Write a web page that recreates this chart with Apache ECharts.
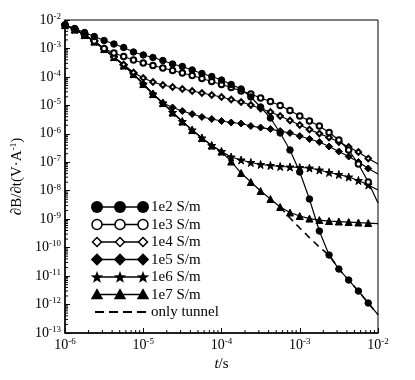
<!DOCTYPE html>
<html>
<head>
<meta charset="utf-8">
<script src="https://cdn.jsdelivr.net/npm/echarts@6/dist/echarts.min.js"></script>
<style>
html, body { margin: 0; padding: 0; background: #fff; }
#chart { width: 415px; height: 380px; }
</style>
</head>
<body>
<div id="chart"></div>
<script>
// sampling times (s), 8 per decade
var times = [1.00e-6, 1.33e-6, 1.78e-6, 2.37e-6, 3.16e-6, 4.22e-6, 5.62e-6, 7.50e-6,
             1.00e-5, 1.33e-5, 1.78e-5, 2.37e-5, 3.16e-5, 4.22e-5, 5.62e-5, 7.50e-5,
             1.00e-4, 1.33e-4, 1.78e-4, 2.37e-4, 3.16e-4, 4.22e-4, 5.62e-4, 7.50e-4,
             1.00e-3, 1.33e-3, 1.78e-3, 2.37e-3, 3.16e-3, 4.22e-3, 5.62e-3, 7.50e-3,
             1.00e-2];

var names = ['1e2 S/m', '1e3 S/m', '1e4 S/m', '1e5 S/m', '1e6 S/m', '1e7 S/m', 'only tunnel'];

// dB/dt (V/A)
var s1e2 = [6.67e-3, 5.02e-3, 3.64e-3, 2.63e-3, 1.90e-3, 1.43e-3, 1.08e-3, 7.50e-4,
            5.89e-4, 4.81e-4, 3.77e-4, 2.84e-4, 2.32e-4, 1.75e-4, 1.32e-4, 1.03e-4,
            7.78e-5, 5.41e-5, 3.76e-5, 1.97e-5, 8.75e-6, 3.59e-6, 1.07e-6, 2.70e-7,
            4.54e-8, 5.11e-9, 3.83e-10, 5.49e-11, 1.77e-11, 7.26e-12, 2.98e-12, 1.13e-12,
            4.45e-13];
var s1e3 = [6.67e-3, 4.83e-3, 3.09e-3, 1.83e-3, 9.96e-4, 6.92e-4, 5.21e-4, 3.93e-4,
            3.08e-4, 2.52e-4, 2.05e-4, 1.68e-4, 1.37e-4, 1.12e-4, 8.79e-5, 6.89e-5,
            5.41e-5, 4.24e-5, 3.19e-5, 2.51e-5, 1.81e-5, 1.37e-5, 9.88e-6, 6.59e-6,
            4.22e-6, 2.82e-6, 1.88e-6, 1.11e-6, 6.05e-7, 2.70e-7, 8.68e-8, 2.02e-8,
            3.70e-9];
var s1e4 = [6.67e-3, 4.64e-3, 2.97e-3, 1.75e-3, 9.57e-4, 5.01e-4, 2.73e-4, 1.43e-4,
            9.15e-5, 6.62e-5, 5.19e-5, 4.42e-5, 3.76e-5, 3.19e-5, 2.72e-5, 2.31e-5,
            1.97e-5, 1.61e-5, 1.31e-5, 1.03e-5, 7.75e-6, 5.84e-6, 4.22e-6, 2.93e-6,
            2.04e-6, 1.42e-6, 1.02e-6, 7.41e-7, 5.15e-7, 3.44e-7, 2.29e-7, 1.35e-7,
            8.68e-8];
var s1e5 = [6.67e-3, 4.64e-3, 2.97e-3, 1.75e-3, 9.57e-4, 5.01e-4, 2.52e-4, 1.26e-4,
            5.63e-5, 2.51e-5, 1.21e-5, 8.40e-6, 6.33e-6, 4.97e-6, 3.90e-6, 3.31e-6,
            2.82e-6, 2.50e-6, 2.30e-6, 1.88e-6, 1.66e-6, 1.47e-6, 1.25e-6, 1.07e-6,
            8.37e-7, 6.56e-7, 5.15e-7, 3.58e-7, 2.39e-7, 1.59e-7, 1.02e-7, 6.03e-8,
            3.86e-8];
var s1e6 = [6.67e-3, 4.64e-3, 2.97e-3, 1.75e-3, 9.57e-4, 5.01e-4, 2.52e-4, 1.26e-4,
            5.63e-5, 2.51e-5, 1.21e-5, 5.61e-6, 2.71e-6, 1.36e-6, 7.12e-7, 3.88e-7,
            2.39e-7, 1.53e-7, 1.20e-7, 9.80e-8, 8.34e-8, 7.69e-8, 7.09e-8, 6.81e-8,
            6.54e-8, 6.28e-8, 5.34e-8, 4.36e-8, 3.71e-8, 3.03e-8, 2.28e-8, 1.59e-8,
            1.06e-8];
var s1e7 = [6.67e-3, 4.64e-3, 2.97e-3, 1.75e-3, 9.57e-4, 5.01e-4, 2.52e-4, 1.26e-4,
            5.63e-5, 2.51e-5, 1.21e-5, 5.61e-6, 2.71e-6, 1.36e-6, 7.12e-7, 3.88e-7,
            2.39e-7, 1.06e-7, 4.19e-8, 2.02e-8, 9.76e-9, 5.11e-9, 2.67e-9, 1.71e-9,
            1.29e-9, 1.05e-9, 9.33e-10, 8.61e-10, 8.27e-10, 7.94e-10, 7.62e-10, 7.32e-10,
            7.03e-10];
// tunnel only: hidden under the 1e7 curve before ~6e-4 s
var tunnel = [null, null, null, null, null, null, null, null,
              null, null, null, null, null, null, null, null,
              null, null, null, null, null, null, 2.67e-9, 1.10e-9,
              4.89e-10, 2.26e-10, 1.05e-10, 5.49e-11, 1.77e-11, 7.26e-12, 2.98e-12, 1.13e-12,
              4.45e-13];

var curves = [s1e2, s1e3, s1e4, s1e5, s1e6, s1e7];

var starPath = 'path://M50,2 L61,36 L97,36 L68,57 L79,92 L50,71 L21,92 L32,57 L3,36 L39,36 Z';
var looks = [
    {symbol: 'circle', size: 6.5, leg: 'circle'},
    {symbol: 'emptyCircle', size: 5.5, leg: 'emptyCircle'},
    {symbol: 'emptyDiamond', size: 5.5, leg: 'emptyDiamond'},
    {symbol: 'diamond', size: 7, leg: 'diamond'},
    {symbol: starPath, size: 8, leg: 'star'},
    {symbol: 'triangle', size: 7, leg: 'triangle'}
];

var FONT = 'Liberation Serif';

function pairs(vals) {
    var out = [];
    for (var i = 0; i < times.length; i++) {
        if (vals[i] == null) continue;
        if (i == times.length - 1) out.push({value: [times[i], vals[i]], symbol: 'none'});
        else out.push([times[i], vals[i]]);
    }
    return out;
}

function powLabel(v) {
    var e = Math.round(Math.log10(v));
    return '{b|10}{s|' + e + '}';
}

var labelRich = {
    b: {fontFamily: FONT, fontSize: 14, color: '#000', lineHeight: 16},
    s: {fontFamily: FONT, fontSize: 9, color: '#000', lineHeight: 16, verticalAlign: 'top', padding: [0, 0, 6, 0]}
};

var series = [{
    name: names[6],
    type: 'line',
    data: pairs(tunnel),
    showSymbol: false,
    lineStyle: {color: '#000', width: 1.6, type: [7, 5]},
    z: 1
}];
for (var k = curves.length - 1; k >= 0; k--) {
    series.push({
        name: names[k],
        type: 'line',
        data: pairs(curves[k]),
        symbol: looks[k].symbol,
        symbolSize: looks[k].size,
        showAllSymbol: true,
        itemStyle: {color: '#000', borderColor: '#000', borderWidth: 1},
        lineStyle: {color: '#000', width: 1.2},
        z: 2 + (curves.length - k)
    });
}

var option = {
    animation: false,
    backgroundColor: '#fff',
    grid: {left: 65, right: 37, top: 20, bottom: 47, show: true, borderColor: '#000', borderWidth: 1},
    xAxis: {
        type: 'log',
        logBase: 10,
        min: 1e-6,
        max: 1e-2,
        interval: 1,
        name: '{i|t}{n|/s}',
        nameLocation: 'middle',
        nameGap: 17,
        nameTextStyle: {
            rich: {
                i: {fontFamily: FONT, fontSize: 15, fontStyle: 'italic', color: '#000'},
                n: {fontFamily: FONT, fontSize: 15, color: '#000'}
            }
        },
        axisLine: {lineStyle: {color: '#000', width: 1.5}},
        axisTick: {inside: true, length: 5, lineStyle: {color: '#000', width: 1}},
        axisLabel: {interval: 0, margin: 4, formatter: powLabel, rich: labelRich},
        splitLine: {show: false}
    },
    yAxis: {
        type: 'log',
        logBase: 10,
        min: 1e-13,
        max: 1e-2,
        interval: 1,
        name: '∂B/∂t(V·A{s|-1})',
        nameLocation: 'middle',
        nameGap: 30,
        nameRotate: 90,
        nameTextStyle: {
            fontFamily: FONT, fontSize: 15, color: '#000',
            rich: {s: {fontFamily: FONT, fontSize: 9, color: '#000', verticalAlign: 'top', padding: [0, 0, 6, 0]}}
        },
        axisLine: {lineStyle: {color: '#000', width: 1.5}},
        axisTick: {inside: true, length: 5, lineStyle: {color: '#000', width: 1}},
        axisLabel: {interval: 0, margin: 4, formatter: powLabel, rich: labelRich},
        splitLine: {show: false}
    },
    series: series
};

var chart = echarts.init(document.getElementById('chart'));
chart.setOption(option);

// minor log ticks and the hand-drawn legend
var els = [];
var xLeft = chart.convertToPixel({xAxisIndex: 0}, 1e-6);
var yBottom = chart.convertToPixel({yAxisIndex: 0}, 1e-13);
for (var d = -6; d < -2; d++) {
    for (var m = 2; m < 10; m++) {
        var px = chart.convertToPixel({xAxisIndex: 0}, m * Math.pow(10, d));
        els.push({type: 'line', shape: {x1: px, y1: yBottom, x2: px, y2: yBottom - 3},
                  style: {stroke: '#000', lineWidth: 1}});
    }
}
for (var d = -13; d < -2; d++) {
    for (var m = 2; m < 10; m++) {
        var py = chart.convertToPixel({yAxisIndex: 0}, m * Math.pow(10, d));
        els.push({type: 'line', shape: {x1: xLeft, y1: py, x2: xLeft + 3, y2: py},
                  style: {stroke: '#000', lineWidth: 1}});
    }
}

function marker(kind, cx, cy) {
    var black = {fill: '#000'};
    var hollow = {fill: '#fff', stroke: '#000', lineWidth: 1.5};
    if (kind == 'circle') return {type: 'circle', shape: {cx: cx, cy: cy, r: 6}, style: black};
    if (kind == 'emptyCircle') return {type: 'circle', shape: {cx: cx, cy: cy, r: 5}, style: hollow};
    if (kind == 'diamond' || kind == 'emptyDiamond') {
        var r = kind == 'diamond' ? 6.2 : 4.5;
        return {type: 'polygon', shape: {points: [[cx, cy - r], [cx + r, cy], [cx, cy + r], [cx - r, cy]]},
                style: kind == 'diamond' ? black : hollow};
    }
    if (kind == 'triangle') {
        return {type: 'polygon', shape: {points: [[cx, cy - 6.2], [cx + 6.2, cy + 4.8], [cx - 6.2, cy + 4.8]]}, style: black};
    }
    var pts = [];
    for (var i = 0; i < 10; i++) {
        var rr = i % 2 ? 2.7 : 6.6;
        var a = -Math.PI / 2 + i * Math.PI / 5;
        pts.push([cx + rr * Math.cos(a), cy + 0.5 + rr * Math.sin(a)]);
    }
    return {type: 'polygon', shape: {points: pts}, style: black};
}

var legY = 207, legStep = 17.5, legX = [97, 120, 143];
for (var i = 0; i < names.length; i++) {
    var y = legY + i * legStep;
    var isTunnel = i == names.length - 1;
    els.push({type: 'line', shape: {x1: isTunnel ? 95 : legX[0], y1: y, x2: isTunnel ? 146 : legX[2], y2: y},
              style: {stroke: '#000', lineWidth: isTunnel ? 2 : 1.5, lineDash: isTunnel ? [9, 5] : null}});
    if (!isTunnel) {
        for (var j = 0; j < legX.length; j++) els.push(marker(looks[i].leg, legX[j], y));
    }
    els.push({type: 'text', style: {text: names[i], x: 151, y: y + 0.5, fill: '#000',
              font: '15px "Liberation Serif"', verticalAlign: 'middle', textVerticalAlign: 'middle'}});
}

chart.setOption({graphic: {elements: els}});
</script>
</body>
</html>
